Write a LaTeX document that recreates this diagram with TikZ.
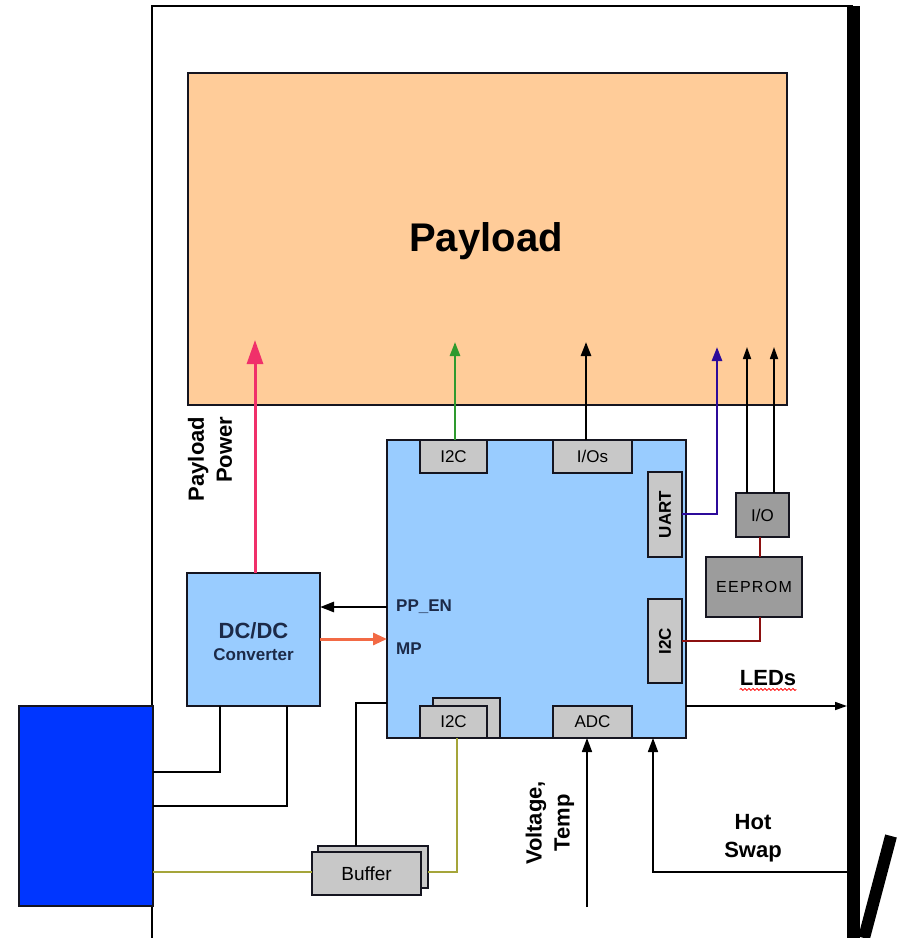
\documentclass[tikz,border=0pt]{standalone}
\usepackage{fontspec}
\usepackage{graphicx}
\setmainfont{Liberation Sans}
\usetikzlibrary{arrows.meta,decorations.pathmorphing}
\definecolor{peach}{HTML}{FFCC99}
\definecolor{ltblue}{HTML}{99CCFF}
\definecolor{subgray}{HTML}{C8C8C8}
\definecolor{dkgray}{HTML}{9C9C9C}
\definecolor{bluebox}{HTML}{0036FF}
\definecolor{navy}{HTML}{1C2A48}
\definecolor{edge}{HTML}{151520}
\definecolor{pinkc}{HTML}{F0306A}
\definecolor{greenc}{HTML}{2E9A2E}
\definecolor{purplec}{HTML}{2C0A9A}
\definecolor{orangec}{HTML}{F26A45}
\definecolor{olivec}{HTML}{A5A53A}
\definecolor{redc}{HTML}{8C1010}
\begin{document}
\begin{tikzpicture}[x=1pt,y=-1pt,
  box/.style={draw=edge,line width=2.6pt,inner sep=0pt,outer sep=0pt},
  bigbox/.style={box,fill=ltblue},
  subbox/.style={box,fill=subgray,font=\fontsize{17}{20}\selectfont},
  subboxb/.style={subbox,font=\fontsize{17}{20}\selectfont\bfseries},
  grbox/.style={box,fill=dkgray,font=\fontsize{17}{20}\selectfont},
  lbl/.style={inner sep=0pt,font=\fontsize{22}{28}\selectfont\bfseries},
  navylbl/.style={inner sep=0pt,text=navy,font=\fontsize{17}{20}\selectfont\bfseries},
  conn/.style={line width=2.6pt},
  thin conn/.style={line width=1.7pt},
  tip/.style={-{Triangle[length=14pt,width=10pt]}},
  smalltip/.style={-{Triangle[length=12pt,width=8pt]}}
]
\useasboundingbox (0,0) rectangle (900,938);
% outer frame
\draw[line width=2.4pt] (152,938) -- (152,6) -- (853,6);
\fill (847,6) rectangle (860,938);
\draw[line width=12pt] (891,836) -- (864,938);

% payload
\node[box,fill=peach,minimum width=599pt,minimum height=332pt] (payload) at (487.5,239) {};
\node[inner sep=0pt,font=\fontsize{40}{44}\selectfont\bfseries] (payloadlbl) at (486,241) {Payload};

% controller
\node[bigbox,minimum width=299pt,minimum height=298pt] (ctrl) at (536.5,589) {};
\node[subbox,minimum width=67pt,minimum height=33pt] (i2ct) at (453.5,456.5) {I2C};
\node[subbox,minimum width=79pt,minimum height=33pt] (ios) at (592.5,456.5) {I/Os};
\node[subboxb,minimum width=34pt,minimum height=85pt] (uart) at (665,514.5) {\rotatebox{90}{UART}};
\node[subboxb,minimum width=34pt,minimum height=84pt] (i2cr) at (665,641) {\rotatebox{90}{I2C}};
\node[subbox,minimum width=67pt,minimum height=40pt] (i2cbk) at (466.5,718) {};
\node[subbox,minimum width=67pt,minimum height=32pt] (i2cb) at (453.5,722) {I2C};
\node[subbox,minimum width=79pt,minimum height=32pt] (adc) at (592.5,722) {ADC};
\node[navylbl,anchor=west] (ppen) at (396,607) {PP\_EN};
\node[navylbl,anchor=west] (mp) at (396,649) {MP};
\coordinate (mpy) at (0,639);

% DC/DC
\node[bigbox,minimum width=133pt,minimum height=133pt] (dcdc) at (253.5,639.5) {};
\node[inner sep=0pt,text=navy,font=\fontsize{22}{24}\selectfont\bfseries] (dcdc1) at (253.5,631) {DC/DC};
\node[inner sep=0pt,text=navy,font=\fontsize{17}{20}\selectfont\bfseries] (dcdc2) at (253.5,655) {Converter};

% right side
\node[grbox,minimum width=53pt,minimum height=44pt] (io) at (762.5,515) {I/O};
\node[grbox,minimum width=96pt,minimum height=60pt,font=\fontsize{16}{20}\selectfont\addfontfeatures{LetterSpace=8}] (eeprom) at (754,587) {EEPROM};

% blue source box
\node[box,fill=bluebox,minimum width=134pt,minimum height=200pt] (src) at (86,806) {};

% buffer
\node[subbox,minimum width=110pt,minimum height=42pt] (bufbk) at (373,867) {};
\node[subbox,minimum width=109pt,minimum height=43pt,font=\fontsize{19}{22}\selectfont] (buf) at (366.5,873.5) {Buffer};

% labels
\node[lbl,rotate=90,align=right] (pplbl) at (210,459) {Payload\\Power};
\node[lbl,rotate=90,align=center] (vtlbl) at (550,823) {Voltage,\\Temp};
\node[lbl,align=center] (hslbl) at (753,838) {Hot\\Swap};
\node[lbl] (leds) at (768,678) {LEDs};
\draw[red,line width=0.8pt,decorate,decoration={snake,amplitude=1pt,segment length=4pt}]
  ([yshift=-4pt]leds.base west) -- ([yshift=-4pt]leds.base east);

% tips
\coordinate (tpow) at (255,340);
\coordinate (ti2c) at (455,342);
\coordinate (tios) at (586,342);
\coordinate (tuart) at (717,347);
\coordinate (tioa) at (747,347);
\coordinate (tiob) at (774,347);
\coordinate (uartc) at (717,514);
\coordinate (eesc) at (760,641);
\coordinate (ledend) at (847,706);
\coordinate (ledy) at (0,706);
\coordinate (vbot) at (587,907);
\coordinate (hsr) at (847,872);
\coordinate (hsl) at (653,872);
\coordinate (c1) at (220,772);
\coordinate (c2) at (287,806);
\coordinate (oliy) at (0,872);
\coordinate (olic) at (457,872);
\coordinate (bufc) at (356,703);

% connectors to payload
\draw[line width=3pt,pinkc,-{Triangle[length=24pt,width=16pt]}] (dcdc.north -| tpow) -- (tpow);
\draw[conn,greenc,tip] (i2ct.north -| ti2c) -- (ti2c);
\draw[conn,tip] (ios.north -| tios) -- (tios);
\draw[conn,purplec,tip] (uart.east |- uartc) -- (uartc) -- (tuart);
\draw[thin conn,smalltip] (io.north -| tioa) -- (tioa);
\draw[thin conn,smalltip] (io.north -| tiob) -- (tiob);

% eeprom links
\draw[conn,redc] (io.south -| eesc) -- (eeprom.north -| eesc);
\draw[conn,redc] (eeprom.south -| eesc) -- (eesc) -- (i2cr.east |- eesc);

% DC/DC links
\draw[conn,tip] (ctrl.west |- ppen) -- (dcdc.east |- ppen);
\draw[line width=3pt,orangec,-{Triangle[length=14pt,width=12pt]}] (dcdc.east |- mpy) -- (ctrl.west |- mpy);
\draw[conn] (dcdc.south -| c1) -- (c1) -- (src.east |- c1);
\draw[conn] (dcdc.south -| c2) -- (c2) -- (src.east |- c2);

% buffer links
\draw[conn,olivec] (src.east |- oliy) -- (buf.west |- oliy);
\draw[conn,olivec] (bufbk.east |- olic) -- (olic) -- (i2cb.south -| olic);
\draw[conn] (bufbk.north -| bufc) -- (bufc) -- (ctrl.west |- bufc);

% bottom/right
\draw[thin conn,smalltip] (ctrl.east |- ledy) -- (ledend);
\draw[thin conn,tip] (vbot) -- (ctrl.south -| vbot);
\draw[thin conn,tip] (hsr) -- (hsl) -- (ctrl.south -| hsl);
\end{tikzpicture}
\end{document}
